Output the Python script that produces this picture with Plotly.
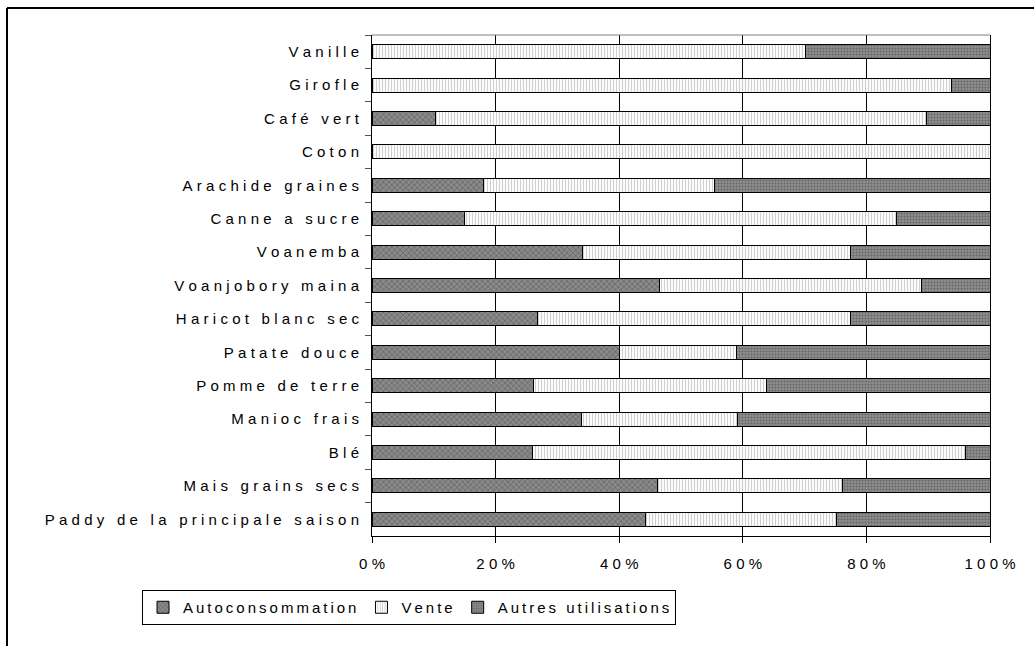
import plotly.graph_objects as go

categories = ["Vanille", "Girofle", "Café vert", "Coton", "Arachide graines",
              "Canne a sucre", "Voanemba", "Voanjobory maina", "Haricot blanc sec",
              "Patate douce", "Pomme de terre", "Manioc frais", "Blé",
              "Mais grains secs", "Paddy de la principale saison"]
autoconsommation = [0.0, 0.0, 10.2, 0.0, 18.1, 15.0, 34.1, 46.6, 26.7, 40.0, 26.2, 33.9, 26.0, 46.2, 44.3]
vente = [70.2, 93.7, 79.6, 100.0, 37.4, 69.8, 43.3, 42.3, 50.7, 18.9, 37.6, 25.2, 70.1, 30.0, 30.8]
autres = [29.8, 6.3, 10.2, 0.0, 44.5, 15.2, 22.6, 11.1, 22.6, 41.1, 36.2, 40.9, 3.9, 23.8, 24.9]
series_names = ["Autoconsommation", "Vente", "Autres utilisations"]
tick_vals = [0, 20, 40, 60, 80, 100]
tick_labels = ["0%", "20%", "40%", "60%", "80%", "100%"]


def spaced(s, sp="\u2009\u200a"):
    return sp.join(list(s))


ycats = [spaced(c) for c in categories]

W, H = 1034, 646
L, R, T, B = 372, 990, 35, 536

fig = go.Figure()
styles = [
    dict(bgcolor="#8a8a8a", fgcolor="#5e5e5e", shape="x", size=4, solidity=0.3),
    dict(bgcolor="#fbfbfb", fgcolor="#cfcfcf", shape="|", size=3, solidity=0.35),
    dict(bgcolor="#8f8f8f", fgcolor="#666666", shape=".", size=3, solidity=0.4),
]
for name, vals, st in zip(series_names, [autoconsommation, vente, autres], styles):
    fig.add_trace(go.Bar(
        y=ycats, x=vals, orientation="h", name=spaced(name, "\u2009"),
        marker=dict(color=st["bgcolor"], pattern=dict(shape=st["shape"], fgcolor=st["fgcolor"],
                                                     bgcolor=st["bgcolor"], size=st["size"],
                                                     solidity=st["solidity"], fillmode="replace"),
                    line=dict(color="black", width=1)),
        width=0.42,
    ))

fig.update_layout(
    barmode="stack",
    width=W, height=H,
    margin=dict(l=L, r=W - R, t=T, b=H - B),
    paper_bgcolor="white", plot_bgcolor="white",
    font=dict(family="Liberation Sans, Arial, sans-serif", size=15, color="black"),
    showlegend=True,
    legend=dict(orientation="h", x=(142 - L) / (R - L), y=(B - 590) / (B - T),
                xanchor="left", yanchor="top", bordercolor="black", borderwidth=1,
                font=dict(size=15), traceorder="normal", itemwidth=30,
                tracegroupgap=0),
    xaxis=dict(range=[0, 100], tickvals=tick_vals, ticktext=[spaced(t) for t in tick_labels],
               showgrid=True, gridcolor="black", gridwidth=1, zeroline=False,
               showline=True, linecolor="black", linewidth=1,
               ticks="outside", ticklen=6, tickcolor="black", ticklabelstandoff=8),
    yaxis=dict(autorange="reversed", showline=True, linecolor="black", linewidth=1,
               mirror=True, ticks="outside", ticklen=6, tickcolor="#555555",
               tickson="boundaries", showgrid=False, ticklabelstandoff=9),
    shapes=[
        dict(type="line", xref="paper", yref="paper", x0=0, x1=1, y0=1, y1=1,
             line=dict(color="#808080", width=1)),
        dict(type="line", xref="paper", yref="paper",
             x0=(7 - L) / (R - L), x1=(W + 5 - L) / (R - L),
             y0=(B - 8) / (B - T), y1=(B - 8) / (B - T),
             line=dict(color="black", width=2)),
        dict(type="line", xref="paper", yref="paper",
             x0=(7 - L) / (R - L), x1=(7 - L) / (R - L),
             y0=(B - 8) / (B - T), y1=(B - H - 5) / (B - T),
             line=dict(color="black", width=2)),
    ],
)

fig.write_html("out.html", post_script="document.body.style.margin='0';",
               config={"displayModeBar": False})
